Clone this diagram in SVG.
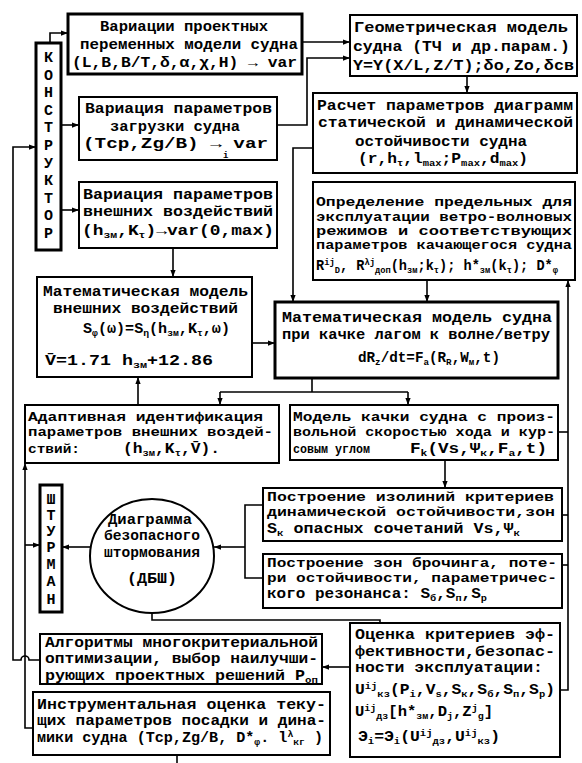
<svg xmlns="http://www.w3.org/2000/svg" width="582" height="763" viewBox="0 0 582 763">
<defs>
<marker id="ah" viewBox="0 0 8 8" refX="8" refY="4" markerWidth="7" markerHeight="7" orient="auto" markerUnits="userSpaceOnUse"><path d="M0,1 L8,4 L0,7 z" fill="#000"/></marker>
</defs>
<style>
.b{fill:#fff;stroke:#000;stroke-width:2}
.bb{fill:#fff;stroke:#000;stroke-width:3}
.c{fill:none;stroke:#000;stroke-width:1.6}
.t{font-family:"Liberation Mono","DejaVu Sans Mono",monospace;font-weight:bold;font-size:14px;fill:#000}
.n{font-size:12px}
.v{font-family:"Liberation Mono","DejaVu Sans Mono",monospace;font-weight:bold;font-size:15px;fill:#000;text-anchor:middle}
.sb{font-size:9px;baseline-shift:-3px}
.sp{font-size:9px;baseline-shift:5px}
</style>
<rect width="582" height="763" fill="#fff"/>

<g id="connectors">
<polyline class="c" points="50,43 50,33 68,33" marker-end="url(#ah)"/>
<line class="c" x1="61" y1="125" x2="79" y2="125" marker-end="url(#ah)"/>
<line class="c" x1="61" y1="210" x2="79" y2="210" marker-end="url(#ah)"/>
<line class="c" x1="302" y1="42" x2="350" y2="42" marker-end="url(#ah)"/>
<polyline class="c" points="277,125 307,125 307,58 350,58" marker-end="url(#ah)"/>
<line class="c" x1="467" y1="76" x2="467" y2="93" marker-end="url(#ah)"/>
<polyline class="c" points="313,148 293,148 293,302" marker-end="url(#ah)"/>
<line class="c" x1="173" y1="248" x2="173" y2="277" marker-end="url(#ah)"/>
<line class="c" x1="252" y1="343" x2="275" y2="343" marker-end="url(#ah)"/>
<line class="c" x1="427" y1="280" x2="427" y2="302" marker-end="url(#ah)"/>
<polyline class="c" points="312,378 312,392"/>
<polyline class="c" points="220,392 408,392"/>
<line class="c" x1="220" y1="392" x2="220" y2="405" marker-end="url(#ah)"/>
<line class="c" x1="408" y1="392" x2="408" y2="405" marker-end="url(#ah)"/>
<line class="c" x1="138" y1="405" x2="138" y2="377" marker-end="url(#ah)"/>
<line class="c" x1="445" y1="460" x2="445" y2="488" marker-end="url(#ah)"/>
<polyline class="c" points="560,690 568,690 568,280" marker-end="url(#ah)"/>
<line class="c" x1="562" y1="515" x2="568" y2="515"/>
<line class="c" x1="562" y1="565" x2="568" y2="565"/>
<line class="c" x1="558" y1="432" x2="568" y2="432"/>
<polyline class="c" points="263,505 245,505 245,578 263,578"/>
<line class="c" x1="245" y1="547" x2="214" y2="547" marker-end="url(#ah)"/>
<line class="c" x1="90" y1="547" x2="62" y2="547" marker-end="url(#ah)"/>
<polyline class="c" points="33,728 25,728 25,463" marker-end="url(#ah)"/>
<line class="c" x1="25" y1="545" x2="40" y2="545" marker-end="url(#ah)"/>
<path class="c" d="M40,660 L29,660 A4,4 0 0 0 21,660 L13,660 L13,147 L36,147" marker-end="url(#ah)"/>
<polyline class="c" points="152,613 152,620 380,620 380,623"/>
<line class="c" x1="350" y1="667" x2="322" y2="667" marker-end="url(#ah)"/>
<line class="c" x1="177" y1="755" x2="177" y2="763"/>
</g>

<g id="n-konstruktor">
<rect class="bb" x="36" y="43" width="25" height="207"/>
<text class="v" x="48.5" y="62">К</text>
<text class="v" x="48.5" y="79.6">О</text>
<text class="v" x="48.5" y="97.2">Н</text>
<text class="v" x="48.5" y="114.8">С</text>
<text class="v" x="48.5" y="132.4">Т</text>
<text class="v" x="48.5" y="150">Р</text>
<text class="v" x="48.5" y="167.6">У</text>
<text class="v" x="48.5" y="185.2">К</text>
<text class="v" x="48.5" y="202.8">Т</text>
<text class="v" x="48.5" y="220.4">О</text>
<text class="v" x="48.5" y="238">Р</text>
</g>

<g id="n-var-design">
<rect class="bb" x="68" y="14" width="234" height="60"/>
<text class="t" x="100" y="31" textLength="168" lengthAdjust="spacingAndGlyphs">Вариации проектных</text>
<text class="t" x="80" y="49" textLength="218" lengthAdjust="spacingAndGlyphs">переменных модели судна</text>
<text class="t" x="72" y="67" textLength="225" lengthAdjust="spacingAndGlyphs">(L,B,B/T,δ,α,χ,H) → var</text>
</g>

<g id="n-var-load">
<rect class="b" x="79" y="97" width="198" height="63"/>
<text class="t" x="85" y="113" textLength="187" lengthAdjust="spacingAndGlyphs">Вариация параметров</text>
<text class="t" x="110" y="131" textLength="130" lengthAdjust="spacingAndGlyphs">загрузки судна</text>
<text class="t" x="83" y="148" textLength="185" lengthAdjust="spacingAndGlyphs">(Тср,Zg/B) → var</text>
<text class="t" x="223" y="158" style="font-size:9px">i</text>
</g>

<g id="n-var-ext">
<rect class="b" x="79" y="182" width="198" height="66"/>
<text class="t" x="83" y="199" textLength="190" lengthAdjust="spacingAndGlyphs">Вариация параметров</text>
<text class="t" x="83" y="216" textLength="190" lengthAdjust="spacingAndGlyphs">внешних воздействий</text>
<text class="t" x="82" y="235" textLength="192" lengthAdjust="spacingAndGlyphs">(h<tspan class="sb">зм</tspan>,K<tspan class="sb">τ</tspan>)→var(0,max)</text>
</g>

<g id="n-geom">
<rect class="b" x="350" y="15" width="227" height="61"/>
<text class="t" x="354" y="32" textLength="214" lengthAdjust="spacingAndGlyphs">Геометрическая модель</text>
<text class="t" x="353" y="51" textLength="217" lengthAdjust="spacingAndGlyphs">судна (ТЧ и др.парам.)</text>
<text class="t" x="353" y="70" textLength="221" lengthAdjust="spacingAndGlyphs">Y=Y(X/L,Z/T);δо,Zо,δсв</text>
</g>

<g id="n-calc">
<rect class="b" x="313" y="93" width="264" height="80"/>
<text class="t" x="317" y="110" textLength="256" lengthAdjust="spacingAndGlyphs">Расчет параметров диаграмм</text>
<text class="t" x="318" y="127" textLength="255" lengthAdjust="spacingAndGlyphs">статической и динамической</text>
<text class="t" x="355" y="146" textLength="172" lengthAdjust="spacingAndGlyphs">остойчивости судна</text>
<text class="t" x="358" y="163" textLength="170" lengthAdjust="spacingAndGlyphs">(r,h<tspan class="sb">τ</tspan>,l<tspan class="sb">max</tspan>;P<tspan class="sb">max</tspan>,d<tspan class="sb">max</tspan>)</text>
</g>

<g id="n-limits">
<rect class="b" x="313" y="182" width="262" height="98"/>
<text class="t n" x="316" y="206" textLength="256" lengthAdjust="spacingAndGlyphs">Определение предельных для</text>
<text class="t n" x="316" y="221" textLength="256" lengthAdjust="spacingAndGlyphs">эксплуатации ветро-волновых</text>
<text class="t n" x="316" y="235" textLength="256" lengthAdjust="spacingAndGlyphs">режимов  и  соответствующих</text>
<text class="t n" x="316" y="249" textLength="256" lengthAdjust="spacingAndGlyphs">параметров качающегося судна</text>
<text class="t" x="316" y="270" textLength="242" lengthAdjust="spacingAndGlyphs">R<tspan class="sp">ij</tspan><tspan class="sb">D</tspan>, R<tspan class="sp">λj</tspan><tspan class="sb">доп</tspan>(h<tspan class="sb">зм</tspan>;k<tspan class="sb">τ</tspan>); h*<tspan class="sb">зм</tspan>(k<tspan class="sb">τ</tspan>); D*<tspan class="sb">φ</tspan></text>
</g>

<g id="n-ext-model">
<rect class="b" x="37" y="277" width="215" height="100"/>
<text class="t" x="43" y="296" textLength="205" lengthAdjust="spacingAndGlyphs">Математическая модель</text>
<text class="t" x="53" y="313" textLength="185" lengthAdjust="spacingAndGlyphs">внешних воздействий</text>
<text class="t" x="83" y="333" textLength="147" lengthAdjust="spacingAndGlyphs">S<tspan class="sb">φ</tspan>(ω)=S<tspan class="sb">η</tspan>(h<tspan class="sb">зм</tspan>,K<tspan class="sb">τ</tspan>,ω)</text>
<text class="t" x="45" y="365" textLength="168" lengthAdjust="spacingAndGlyphs">V̄=1.71 h<tspan class="sb">зм</tspan>+12.86</text>
</g>

<g id="n-ship-model">
<rect class="bb" x="275" y="302" width="283" height="76"/>
<text class="t" x="282" y="322" textLength="270" lengthAdjust="spacingAndGlyphs">Математическая модель судна</text>
<text class="t" x="282" y="339" textLength="268" lengthAdjust="spacingAndGlyphs">при качке лагом к волне/ветру</text>
<text class="t" x="358" y="362" textLength="142" lengthAdjust="spacingAndGlyphs">dR<tspan class="sb">z</tspan>/dt=F<tspan class="sb">a</tspan>(R<tspan class="sb">R</tspan>,W<tspan class="sb">м</tspan>,t)</text>
</g>

<g id="n-adapt">
<rect class="b" x="25" y="405" width="254" height="58"/>
<text class="t n" x="28" y="421" textLength="235" lengthAdjust="spacingAndGlyphs">Адаптивная идентификация</text>
<text class="t n" x="28" y="436" textLength="245" lengthAdjust="spacingAndGlyphs">параметров внешних воздей-</text>
<text class="t n" x="28" y="453" textLength="52" lengthAdjust="spacingAndGlyphs">ствий:</text>
<text class="t" x="123" y="453" textLength="97" lengthAdjust="spacingAndGlyphs">(h<tspan class="sb">зм</tspan>,K<tspan class="sb">τ</tspan>,V̄).</text>
</g>

<g id="n-motion">
<rect class="b" x="290" y="405" width="268" height="55"/>
<text class="t n" x="293" y="421" textLength="262" lengthAdjust="spacingAndGlyphs">Модель качки судна с произ-</text>
<text class="t n" x="293" y="436" textLength="262" lengthAdjust="spacingAndGlyphs">вольной скоростью хода и кур-</text>
<text class="t n" x="293" y="453" textLength="77" lengthAdjust="spacingAndGlyphs">совым углом</text>
<text class="t" x="410" y="453" textLength="137" lengthAdjust="spacingAndGlyphs">F<tspan class="sb">k</tspan>(Vs,Ψ<tspan class="sb">к</tspan>,F<tspan class="sb">a</tspan>,t)</text>
</g>

<g id="n-isolines">
<rect class="b" x="263" y="488" width="299" height="53"/>
<text class="t n" x="267" y="501" textLength="287" lengthAdjust="spacingAndGlyphs">Построение изолиний критериев</text>
<text class="t n" x="267" y="516" textLength="288" lengthAdjust="spacingAndGlyphs">динамической остойчивости,зон</text>
<text class="t" x="267" y="533" textLength="253" lengthAdjust="spacingAndGlyphs">S<tspan class="sb">к</tspan> опасных сочетаний Vs,Ψ<tspan class="sb">к</tspan></text>
</g>

<g id="n-broaching">
<rect class="b" x="263" y="554" width="299" height="54"/>
<text class="t n" x="267" y="567" textLength="290" lengthAdjust="spacingAndGlyphs">Построение зон брочинга, поте-</text>
<text class="t n" x="267" y="582" textLength="290" lengthAdjust="spacingAndGlyphs">ри остойчивости, параметричес-</text>
<text class="t" x="267" y="598" textLength="220" lengthAdjust="spacingAndGlyphs">кого резонанса: S<tspan class="sb">б</tspan>,S<tspan class="sb">п</tspan>,S<tspan class="sb">р</tspan></text>
</g>

<g id="n-shturman">
<rect class="bb" x="40" y="485" width="22" height="127"/>
<text class="v" x="51" y="504">Ш</text>
<text class="v" x="51" y="520">Т</text>
<text class="v" x="51" y="536">У</text>
<text class="v" x="51" y="552">Р</text>
<text class="v" x="51" y="569">М</text>
<text class="v" x="51" y="586">А</text>
<text class="v" x="51" y="604">Н</text>
</g>

<g id="n-dbsh">
<ellipse cx="152" cy="556" rx="62" ry="57" fill="#fff" stroke="#000" stroke-width="2"/>
<text class="t" x="108" y="524" textLength="84" lengthAdjust="spacingAndGlyphs">Диаграмма</text>
<text class="t" x="104" y="540" textLength="96" lengthAdjust="spacingAndGlyphs">безопасного</text>
<text class="t" x="104" y="557" textLength="96" lengthAdjust="spacingAndGlyphs">штормования</text>
<text class="t" x="127" y="583" textLength="50" lengthAdjust="spacingAndGlyphs">(ДБШ)</text>
</g>

<g id="n-algorithms">
<rect class="b" x="40" y="634" width="282" height="50"/>
<text class="t" x="45" y="647" textLength="273" lengthAdjust="spacingAndGlyphs">Алгоритмы многокритериальной</text>
<text class="t" x="45" y="663" textLength="273" lengthAdjust="spacingAndGlyphs">оптимизации, выбор наилучши-</text>
<text class="t" x="45" y="680" textLength="273" lengthAdjust="spacingAndGlyphs">рующих проектных решений P<tspan class="sb">оп</tspan></text>
</g>

<g id="n-instrument">
<rect class="b" x="33" y="692" width="297" height="63"/>
<text class="t" x="37" y="709" textLength="289" lengthAdjust="spacingAndGlyphs">Инструментальная оценка теку-</text>
<text class="t" x="37" y="725" textLength="289" lengthAdjust="spacingAndGlyphs">щих параметров посадки и дина-</text>
<text class="t" x="37" y="742" textLength="286" lengthAdjust="spacingAndGlyphs">мики судна (Тср,Zg/B, D*<tspan class="sb">φ</tspan>. l<tspan class="sp">λ</tspan><tspan class="sb">кг</tspan> )</text>
</g>

<g id="n-criteria">
<rect class="b" x="350" y="623" width="210" height="134"/>
<text class="t" x="355" y="639" textLength="200" lengthAdjust="spacingAndGlyphs">Оценка критериев эф-</text>
<text class="t" x="355" y="656" textLength="200" lengthAdjust="spacingAndGlyphs">фективности,безопас-</text>
<text class="t" x="355" y="672" textLength="188" lengthAdjust="spacingAndGlyphs">ности эксплуатации:</text>
<text class="t" x="355" y="694" textLength="200" lengthAdjust="spacingAndGlyphs">U<tspan class="sp">ij</tspan><tspan class="sb">кз</tspan>(P<tspan class="sb">i</tspan>,V<tspan class="sb">s</tspan>,S<tspan class="sb">к</tspan>,S<tspan class="sb">б</tspan>,S<tspan class="sb">п</tspan>,S<tspan class="sb">р</tspan>)</text>
<text class="t" x="355" y="716" textLength="138" lengthAdjust="spacingAndGlyphs">U<tspan class="sp">ij</tspan><tspan class="sb">дз</tspan>[h*<tspan class="sb">зм</tspan>,D<tspan class="sb">j</tspan>,Z<tspan class="sp">j</tspan><tspan class="sb">g</tspan>]</text>
<text class="t" x="358" y="741" textLength="142" lengthAdjust="spacingAndGlyphs">Э<tspan class="sb">i</tspan>=Э<tspan class="sb">i</tspan>(U<tspan class="sp">ij</tspan><tspan class="sb">дз</tspan>,U<tspan class="sp">ij</tspan><tspan class="sb">кз</tspan>)</text>
</g>
</svg>
